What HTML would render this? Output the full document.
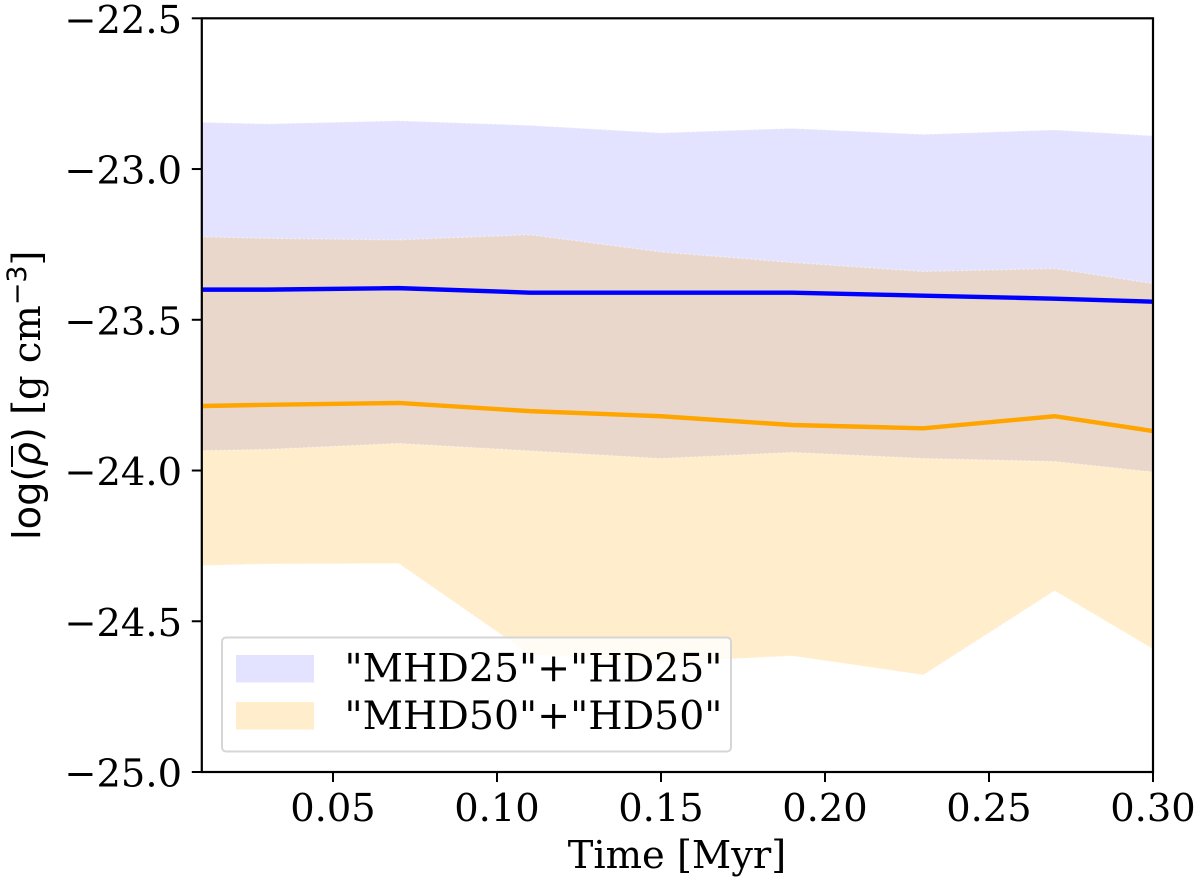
<!DOCTYPE html>
<html>
<head>
<meta charset="utf-8">
<style>
html,body{margin:0;padding:0;background:#fff;width:1200px;height:883px;overflow:hidden}
svg{display:block;filter:blur(0.35px)}
text{font-family:"DejaVu Serif","Liberation Serif",serif;fill:#000;font-size:38.4px}
</style>
</head>
<body>
<svg id="chart" xmlns="http://www.w3.org/2000/svg" width="1200" height="883" viewBox="0 0 1200 883">
  <g id="fills"></g>
  <g id="lines"></g>
  <g id="axes"></g>
  <g>
    <rect x="222" y="637.5" width="509" height="114" rx="4" fill="#fff" fill-opacity="0.8" stroke="#d6d6d6" stroke-width="2"/>
    <rect x="236" y="655" width="78" height="27.5" fill="#0000ff" fill-opacity="0.11"/>
    <text x="344.5" y="681.5" style="font-size:39.4px">"MHD25"+"HD25"</text>
    <rect x="236" y="702" width="78" height="27.5" fill="#ffa500" fill-opacity="0.2"/>
    <text x="344.5" y="729" style="font-size:39.4px">"MHD50"+"HD50"</text>
  </g>
  <text x="677" y="868" text-anchor="middle">Time [Myr]</text>
  <g transform="translate(40,540) rotate(-90)">
    <text x="0" y="0"><tspan style="font-family:'DejaVu Sans',sans-serif">log(</tspan><tspan style="font-family:'DejaVu Sans',sans-serif;font-style:italic">ρ</tspan><tspan style="font-family:'DejaVu Sans',sans-serif">)</tspan><tspan> [g cm</tspan><tspan dy="-14" style="font-family:'DejaVu Sans',sans-serif;font-size:27px">−3</tspan><tspan dy="14">]</tspan></text>
    <line x1="73" x2="94" y1="-28" y2="-28" stroke="#000" stroke-width="2"/>
  </g>
</svg>
<script>
var times = [0.01, 0.03, 0.07, 0.11, 0.15, 0.19, 0.23, 0.27, 0.30];
var mean25 = [-23.40, -23.40, -23.395, -23.41, -23.41, -23.41, -23.42, -23.43, -23.44];
var upper25 = [-22.845, -22.85, -22.84, -22.855, -22.88, -22.865, -22.885, -22.87, -22.89];
var lower25 = [-23.934, -23.93, -23.91, -23.935, -23.96, -23.94, -23.96, -23.97, -24.005];
var mean50 = [-23.786, -23.782, -23.776, -23.803, -23.82, -23.849, -23.86, -23.82, -23.869];
var upper50 = [-23.225, -23.23, -23.235, -23.218, -23.275, -23.31, -23.34, -23.33, -23.38];
var lower50 = [-24.315, -24.31, -24.308, -24.61, -24.635, -24.615, -24.678, -24.399, -24.592];
var xTicks = [0.05, 0.10, 0.15, 0.20, 0.25, 0.30];
var xTickLabels = ["0.05", "0.10", "0.15", "0.20", "0.25", "0.30"];
var yTicks = [-22.5, -23.0, -23.5, -24.0, -24.5, -25.0];
var yTickLabels = ["−22.5", "−23.0", "−23.5", "−24.0", "−24.5", "−25.0"];

var NS = "http://www.w3.org/2000/svg";
var plotLeft = 201.8, plotRight = 1153, plotTop = 18.3, plotBottom = 772;
var xMin = 0.01, xMax = 0.30, yMin = -25, yMax = -22.5;

function xScale(v) { return plotLeft + (v - xMin) / (xMax - xMin) * (plotRight - plotLeft); }
function yScale(v) { return plotBottom - (v - yMin) / (yMax - yMin) * (plotBottom - plotTop); }

function linePoints(ys) {
  return times.map(function (t, i) { return xScale(t).toFixed(2) + "," + yScale(ys[i]).toFixed(2); });
}
function bandPoints(top, bottom) {
  return linePoints(top).concat(linePoints(bottom).reverse()).join(" ");
}

var fills = document.getElementById("fills");
var lines = document.getElementById("lines");
var axes = document.getElementById("axes");

var band25 = document.createElementNS(NS, "polygon");


band25.setAttribute("points", bandPoints(upper25, lower25));
band25.setAttribute("fill", "#0000ff");
band25.setAttribute("fill-opacity", "0.11");
fills.appendChild(band25);

var band50 = document.createElementNS(NS, "polygon");


band50.setAttribute("points", bandPoints(upper50, lower50));
band50.setAttribute("fill", "#ffa500");
band50.setAttribute("fill-opacity", "0.2");
fills.appendChild(band50);

[upper25, lower25, upper50, lower50].forEach(function (edge) {
  var edgeLine = document.createElementNS(NS, "polyline");
  
  
  edgeLine.setAttribute("points", linePoints(edge).join(" "));
  edgeLine.setAttribute("fill", "none");
  edgeLine.setAttribute("stroke", "#fff");
  edgeLine.setAttribute("stroke-opacity", "0.45");
  edgeLine.setAttribute("stroke-width", "1.2");
  edgeLine.setAttribute("stroke-dasharray", "2.2 2.2");
  fills.appendChild(edgeLine);
});

var line25 = document.createElementNS(NS, "polyline");


line25.setAttribute("points", linePoints(mean25).join(" "));
line25.setAttribute("fill", "none");
line25.setAttribute("stroke", "#0000ff");
line25.setAttribute("stroke-width", "4.4");
lines.appendChild(line25);

var line50 = document.createElementNS(NS, "polyline");


line50.setAttribute("points", linePoints(mean50).join(" "));
line50.setAttribute("fill", "none");
line50.setAttribute("stroke", "#ffa500");
line50.setAttribute("stroke-width", "4.4");
lines.appendChild(line50);

var frame = document.createElementNS(NS, "rect");


frame.setAttribute("x", plotLeft);
frame.setAttribute("y", plotTop);
frame.setAttribute("width", plotRight - plotLeft);
frame.setAttribute("height", plotBottom - plotTop);
frame.setAttribute("fill", "none");
frame.setAttribute("stroke", "#000");
frame.setAttribute("stroke-width", "2.2");
axes.appendChild(frame);

xTicks.forEach(function (t, i) {
  var tick = document.createElementNS(NS, "line");
  
  
  tick.setAttribute("x1", xScale(t));
  tick.setAttribute("x2", xScale(t));
  tick.setAttribute("y1", plotBottom);
  tick.setAttribute("y2", plotBottom + 10);
  tick.setAttribute("stroke", "#000");
  tick.setAttribute("stroke-width", "2");
  axes.appendChild(tick);
  var label = document.createElementNS(NS, "text");
  
  
  label.setAttribute("x", xScale(t));
  label.setAttribute("y", 821);
  label.setAttribute("text-anchor", "middle");
  label.textContent = xTickLabels[i];
  axes.appendChild(label);
});

yTicks.forEach(function (v, i) {
  var tick = document.createElementNS(NS, "line");
  
  
  tick.setAttribute("x1", plotLeft - 10);
  tick.setAttribute("x2", plotLeft);
  tick.setAttribute("y1", yScale(v));
  tick.setAttribute("y2", yScale(v));
  tick.setAttribute("stroke", "#000");
  tick.setAttribute("stroke-width", "2");
  axes.appendChild(tick);
  var label = document.createElementNS(NS, "text");
  
  
  label.setAttribute("x", 182);
  label.setAttribute("y", yScale(v) + 14.5);
  label.setAttribute("text-anchor", "end");
  label.textContent = yTickLabels[i];
  axes.appendChild(label);
});
</script>
</body>
</html>
